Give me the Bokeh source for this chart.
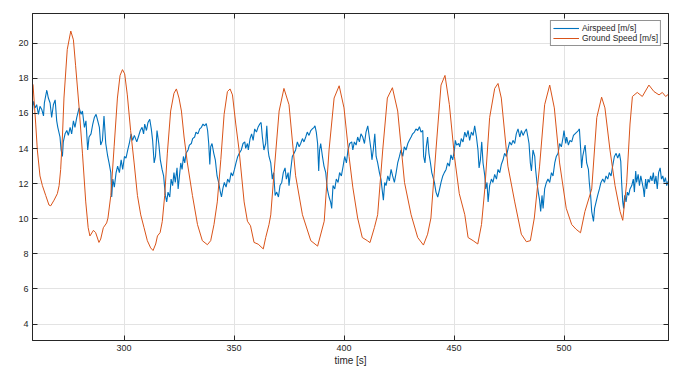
from bokeh.plotting import figure
from bokeh.models import Range1d, LinearAxis, FixedTicker
from bokeh.embed import file_html
from bokeh.resources import INLINE

# ---------------- data ----------------
x_ticks = [300, 350, 400, 450, 500]
y_ticks = [4, 6, 8, 10, 12, 14, 16, 18, 20]

gs_t = [258.4, 258.65, 259.86, 260.6, 261.8, 262.9, 264.4, 265.9, 266.7, 268.2, 269.7,
        270.5, 271.2, 272.0, 272.7, 274.2, 275.8, 277.0, 278.0, 279.6, 281.1, 282.6,
        283.7, 284.5, 286.1, 287.1, 288.6, 289.4, 290.6, 292.1, 292.7, 294.0, 295.5,
        297.0, 298.2, 299.3, 300.3, 301.5, 303.0, 304.6, 306.1, 307.6, 309.1, 310.6,
        312.1, 313.2, 314.4, 315.2, 316.4, 317.4, 318.5, 319.7, 321.2, 322.7, 323.8,
        325.0, 326.1, 327.3, 328.8, 331.1, 333.4, 335.6, 337.9, 339.4, 340.9, 342.4,
        344.0, 345.5, 347.0, 348.2, 349.3, 350.8, 352.3, 354.6, 356.1, 357.5, 359.1,
        361.0, 363.3, 364.4, 365.9, 366.7, 368.2, 370.5, 372.7, 375.0, 378.0, 381.1,
        384.9, 388.0, 391.0, 393.2, 395.5, 397.8, 400.0, 402.3, 404.0, 406.2, 408.3,
        410.6, 411.8, 413.8, 415.3, 417.6, 419.7, 422.0, 424.4, 427.5, 430.5, 433.5,
        436.1, 438.0, 439.5, 441.8, 444.1, 445.9, 447.9, 450.2, 452.4, 454.9, 456.4,
        458.7, 460.8, 462.5, 464.0, 466.2, 468.5, 470.0, 471.5, 474.5, 477.6, 480.6,
        482.9, 484.7, 486.5, 488.9, 491.2, 493.5, 495.6, 498.0, 501.0, 503.5, 505.5,
        507.5, 509.5, 512.6, 514.9, 517.1, 518.6, 520.9, 523.2, 525.5, 526.7, 528.5,
        530.0, 531.1, 533.3, 535.6, 538.6, 540.9, 543.2, 544.7, 546.2, 547.5]
gs_v = [17.7, 17.62, 15.4, 13.92, 12.44, 11.89, 11.33, 10.78, 10.74, 11.06, 11.43,
        11.89, 12.81, 14.66, 16.88, 19.65, 20.7, 20.2, 18.72, 16.32, 13.74, 10.96,
        9.49, 9.02, 9.34, 9.21, 8.65, 8.84, 9.49, 9.76, 10.04, 11.33, 14.1,
        16.88, 18.17, 18.5, 18.26, 17.06, 15.03, 13.18, 11.33, 10.22, 9.49, 8.75,
        8.34, 8.19, 8.56, 9.02, 9.21, 9.85, 11.33, 13.74, 16.14, 17.15, 17.4,
        16.88, 16.14, 14.66, 13.18, 11.33, 9.67, 8.75, 8.52, 8.75, 9.67, 10.96,
        13.37, 15.95, 17.25, 17.4, 17.06, 15.4, 13.92, 10.96, 9.86, 9.6, 8.65,
        8.55, 8.28, 8.93, 9.67, 10.22, 12.63, 16.14, 17.43, 16.5, 12.45, 10.23,
        8.75, 8.44, 9.86, 13.92, 16.88, 17.58, 16.32, 13.55, 11.8, 10.04, 8.93,
        8.75, 8.64, 9.49, 10.23, 13.92, 16.88, 17.47, 16.14, 12.07, 10.23, 8.93,
        8.5, 9.12, 10.04, 13.92, 17.62, 18.17, 16.5, 13.55, 11.43, 10.23, 8.93,
        8.75, 8.56, 9.67, 11.7, 15.77, 17.43, 17.71, 16.88, 13.0, 10.96, 9.12,
        8.69, 8.75, 10.04, 13.0, 16.5, 17.62, 16.32, 13.18, 10.6, 9.67, 9.4,
        9.2, 10.41, 11.7, 15.77, 16.93, 16.32, 13.92, 11.89, 10.41, 9.91, 12.07,
        15.4, 16.97, 17.2, 16.97, 17.62, 17.25, 17.06, 17.2, 16.97, 17.1]

as_t = [258.1, 258.8, 259.6, 260.3, 261.1, 261.8, 262.6, 263.4, 263.8, 264.9, 265.6,
        266.4, 267.1, 267.9, 268.7, 269.4, 269.9, 270.9, 271.4, 272.0, 272.4, 273.2,
        274.0, 274.7, 275.5, 276.2, 277.0, 277.7, 278.5, 279.6, 280.5, 281.1, 282.0,
        282.7, 283.5, 284.1, 285.0, 285.8, 286.5, 287.3, 287.9, 288.8, 289.4, 290.2,
        290.9, 291.7, 292.6, 293.2, 294.0, 294.4, 294.9, 295.6, 296.4, 297.1, 297.9,
        298.7, 299.4, 300.2, 300.9, 301.7, 302.4, 303.2, 303.9, 304.7, 305.8, 306.5,
        307.4, 308.2, 308.9, 309.4, 310.2, 310.9, 311.7, 312.4, 313.0, 313.7, 314.3,
        315.0, 315.8, 316.5, 317.3, 318.0, 318.8, 319.4, 320.0, 320.8, 321.4, 322.1,
        322.7, 323.3, 324.1, 324.6, 325.2, 325.8, 326.4, 327.0, 327.6, 328.2, 329.1,
        329.7, 330.6, 331.2, 332.1, 332.7, 333.6, 334.4, 335.2, 335.9, 336.7, 337.4,
        338.0, 338.5, 339.0, 339.4, 340.0, 340.8, 341.5, 342.3, 343.0, 343.8, 344.3,
        344.9, 345.6, 346.4, 347.1, 347.9, 348.7, 349.4, 350.2, 350.9, 351.7, 352.4,
        353.3, 354.1, 354.9, 355.3, 356.1, 356.5, 357.3, 358.0, 358.7, 359.4, 360.2,
        360.9, 361.7, 362.3, 362.9, 363.6, 364.4, 364.9, 365.5, 365.9, 366.7, 367.4,
        368.0, 368.7, 369.4, 370.2, 370.9, 371.7, 372.4, 373.2, 373.8, 374.6, 375.0,
        375.8, 376.5, 377.3, 378.0, 378.8, 379.6, 380.3, 381.1, 381.8, 382.6, 383.3,
        384.1, 384.9, 385.6, 386.4, 386.8, 387.4, 388.0, 388.5, 388.9, 389.4, 390.2,
        390.9, 391.7, 392.4, 393.2, 393.9, 394.4, 395.0, 395.8, 396.5, 397.3, 398.0,
        398.8, 399.6, 400.3, 401.1, 401.8, 402.6, 403.5, 404.0, 404.7, 405.5, 406.2,
        407.0, 407.7, 408.5, 409.3, 410.0, 410.8, 411.5, 412.3, 412.7, 413.3, 414.0,
        414.6, 415.3, 416.1, 416.8, 417.3, 417.9, 418.5, 419.1, 419.9, 420.6, 421.4,
        422.1, 422.9, 423.7, 424.4, 425.2, 425.9, 426.7, 427.4, 428.2, 429.0, 429.7,
        430.5, 431.2, 432.0, 432.7, 433.5, 434.3, 435.0, 435.8, 436.2, 436.8, 437.4,
        438.0, 438.6, 439.3, 439.9, 440.3, 441.1, 441.8, 442.6, 443.3, 444.1, 444.9,
        445.6, 446.4, 447.1, 447.9, 448.6, 449.4, 450.2, 450.6, 451.2, 452.1, 452.6,
        453.3, 454.1, 454.9, 455.6, 456.4, 457.1, 457.9, 458.7, 459.4, 460.2, 460.9,
        461.4, 462.0, 462.6, 463.2, 464.0, 464.4, 465.0, 465.5, 466.2, 467.0, 467.7,
        468.5, 469.3, 470.0, 470.8, 471.5, 472.3, 473.0, 473.8, 474.6, 475.3, 476.1,
        476.8, 477.6, 478.3, 479.1, 479.9, 480.6, 481.4, 482.1, 482.9, 483.6, 484.1,
        484.7, 485.2, 485.9, 486.7, 487.1, 487.7, 488.3, 488.9, 489.4, 490.0, 490.5,
        491.2, 492.0, 492.7, 493.5, 494.3, 495.0, 495.8, 496.5, 497.3, 498.0, 498.8,
        499.6, 500.0, 500.8, 501.2, 502.0, 502.7, 503.5, 504.3, 505.0, 505.8, 506.5,
        507.0, 507.6, 508.0, 508.5, 509.1, 509.6, 510.3, 511.1, 511.5, 512.1, 512.6,
        513.4, 513.9, 514.6, 515.3, 516.1, 516.8, 517.6, 518.4, 519.1, 519.9, 520.6,
        521.4, 522.1, 522.9, 523.7, 524.4, 525.2, 525.8, 526.2, 526.7, 527.1, 527.6,
        528.2, 528.8, 529.4, 530.0, 530.8, 531.5, 532.0, 532.6, 533.0, 533.7, 534.3,
        534.9, 535.5, 536.1, 536.5, 537.1, 537.6, 538.2, 538.8, 539.4, 540.0, 540.6,
        541.2, 541.8, 542.4, 543.0, 543.7, 544.3, 544.9, 545.5, 546.1, 546.7, 547.4]
as_v = [15.77, 16.69, 16.32, 16.5, 15.95, 16.41, 16.23, 15.86, 16.6, 17.34, 16.88,
        16.6, 15.77, 16.5, 16.78, 15.58, 15.21, 14.66, 13.92, 13.55, 14.38, 14.84,
        15.03, 14.75, 15.21, 14.84, 15.58, 15.21, 15.77, 16.32, 15.95, 16.14, 15.21,
        15.58, 13.92, 14.66, 14.84, 15.4, 15.77, 15.95, 15.67, 15.21, 14.2, 14.47,
        15.86, 14.29, 13.55, 13.18, 12.63, 11.24, 12.26, 11.8, 12.63, 13.0, 12.63,
        13.36, 12.81, 13.55, 13.46, 13.92, 14.29, 14.84, 14.47, 14.75, 14.38, 14.66,
        15.03, 15.21, 14.84, 15.4, 15.03, 15.49, 15.67, 15.12, 14.47, 13.18, 13.55,
        15.03, 14.29, 13.36, 12.81, 12.44, 11.33, 10.96, 11.52, 11.24, 12.26, 11.89,
        12.63, 12.07, 12.9, 11.7, 12.44, 13.18, 12.81, 13.55, 13.18, 13.73, 13.92,
        14.2, 14.29, 14.57, 14.66, 14.94, 14.84, 15.12, 15.21, 15.4, 15.3, 15.43,
        15.03, 14.29, 13.09, 14.1, 14.29, 13.73, 13.36, 12.44, 12.07, 11.52, 11.24,
        11.7, 12.07, 11.8, 12.26, 12.07, 12.63, 12.44, 12.81, 13.18, 13.55, 13.73,
        13.92, 14.29, 14.38, 14.01, 14.29, 13.92, 14.57, 14.84, 14.47, 15.12, 14.94,
        15.21, 15.4, 15.49, 14.66, 13.92, 14.29, 15.3, 13.92, 13.55, 13.18, 12.26,
        12.63, 11.33, 11.52, 11.24, 11.89, 12.07, 12.63, 12.9, 12.26, 12.63, 11.89,
        12.81, 13.55, 13.73, 13.92, 14.38, 14.1, 14.29, 14.57, 14.38, 14.66, 14.94,
        14.75, 15.03, 15.12, 15.21, 15.3, 14.94, 14.29, 12.72, 13.92, 14.29, 13.55,
        13.0, 12.63, 11.7, 11.24, 10.96, 10.59, 11.89, 11.7, 12.26, 12.07, 12.63,
        12.44, 13.0, 13.55, 13.18, 13.92, 14.29, 14.38, 13.92, 14.38, 14.2, 14.66,
        14.38, 14.84, 14.66, 14.29, 14.94, 15.3, 14.66, 13.92, 13.36, 13.92, 14.84,
        13.55, 13.18, 12.63, 12.26, 11.7, 11.06, 12.07, 11.89, 12.44, 12.16, 12.81,
        12.44, 12.07, 12.63, 13.18, 13.55, 13.92, 13.55, 14.1, 13.92, 14.29, 14.47,
        14.66, 14.84, 14.94, 15.12, 15.03, 15.25, 14.94, 15.03, 13.55, 13.18, 14.1,
        14.66, 13.73, 13.18, 12.63, 12.44, 12.07, 11.52, 11.24, 11.61, 12.07, 12.44,
        12.63, 12.81, 13.18, 13.0, 13.64, 13.36, 13.92, 14.47, 14.2, 14.29, 14.1,
        14.57, 14.38, 14.94, 14.66, 15.03, 14.47, 14.94, 14.75, 15.3, 14.66, 13.92,
        12.9, 13.36, 14.38, 13.18, 12.44, 11.7, 12.07, 10.96, 11.89, 12.26, 12.07,
        12.53, 12.26, 12.81, 12.63, 13.09, 13.36, 13.73, 13.55, 14.01, 14.38, 14.2,
        14.47, 14.29, 14.84, 15.12, 14.66, 15.03, 14.75, 14.94, 15.12, 14.66, 14.29,
        13.18, 12.72, 13.92, 13.55, 12.81, 12.07, 11.52, 11.06, 10.41, 11.33, 10.59,
        11.7, 12.07, 12.26, 12.07, 12.63, 12.44, 13.18, 13.55, 13.73, 14.29, 14.1,
        14.66, 15.03, 14.29, 14.66, 14.2, 14.47, 14.38, 14.75, 14.84, 14.94, 15.03,
        15.12, 13.92, 12.9, 13.55, 13.92, 14.2, 13.18, 12.81, 12.07, 11.33, 10.41,
        9.85, 10.59, 10.96, 11.33, 11.7, 12.07, 12.26, 12.07, 12.44, 12.26, 12.63,
        12.44, 13.0, 13.55, 13.73, 13.46, 13.73, 13.27, 12.07, 10.96, 10.59, 11.33,
        10.96, 11.52, 11.33, 11.7, 11.89, 12.26, 11.52, 12.72, 12.07, 12.53, 11.89,
        12.44, 12.07, 11.7, 11.24, 12.26, 11.7, 12.26, 12.07, 12.44, 12.16, 12.63,
        11.98, 12.44, 11.7, 12.63, 12.9, 12.26, 12.44, 12.07, 12.35, 11.89, 12.16]

series_labels = ["Airspeed [m/s]", "Ground Speed [m/s]"]
x_label = "time [s]"

# ---------------- styling ----------------
FONT = "Liberation Sans"
AX = "#262626"
GRID = "#e3e3e3"
BLUE = "#0072BD"
ORANGE = "#D95319"

p = figure(width=674, height=368, output_backend="svg", toolbar_location=None,
           x_range=Range1d(258.4, 547.5), y_range=Range1d(3.06, 21.7),
           min_border_left=32, min_border_right=6, min_border_top=13,
           min_border_bottom=26, background_fill_color="white",
           border_fill_color="white")

p.line(as_t, as_v, line_color=BLUE, line_width=1.1, legend_label=series_labels[0])
p.line(gs_t, gs_v, line_color=ORANGE, line_width=1.0, legend_label=series_labels[1])

def style_axis(ax, labels=True):
    ax.axis_line_color = AX
    ax.axis_line_width = 1
    ax.major_tick_line_color = AX
    ax.major_tick_in = 5
    ax.major_tick_out = 0
    ax.minor_tick_line_color = None
    ax.major_label_text_font = FONT
    ax.major_label_text_font_size = "9px"
    ax.major_label_text_color = AX
    if not labels:
        ax.major_label_text_font_size = "1px"
        ax.major_label_text_color = None
        ax.major_label_standoff = 0

style_axis(p.xaxis[0])
style_axis(p.yaxis[0])
p.xaxis[0].ticker = FixedTicker(ticks=x_ticks)
p.yaxis[0].ticker = FixedTicker(ticks=y_ticks)
p.xaxis[0].major_label_standoff = 4
p.yaxis[0].major_label_standoff = 4
p.xaxis[0].axis_label = x_label
p.xaxis[0].axis_label_text_font = FONT
p.xaxis[0].axis_label_text_font_size = "10px"
p.xaxis[0].axis_label_text_font_style = "normal"
p.xaxis[0].axis_label_text_color = AX
p.xaxis[0].axis_label_standoff = 1

top = LinearAxis(ticker=FixedTicker(ticks=x_ticks))
style_axis(top, labels=False)
p.add_layout(top, "above")
right = LinearAxis(ticker=FixedTicker(ticks=y_ticks))
style_axis(right, labels=False)
p.add_layout(right, "right")

p.xgrid.grid_line_color = GRID
p.ygrid.grid_line_color = GRID
p.xgrid.ticker = FixedTicker(ticks=x_ticks)
p.ygrid.ticker = FixedTicker(ticks=y_ticks)
p.outline_line_color = AX

lg = p.legend[0]
lg.location = "top_right"
lg.margin = 7
lg.border_line_color = AX
lg.border_line_width = 1
lg.background_fill_color = "white"
lg.background_fill_alpha = 1
lg.padding = 2
lg.spacing = 0
lg.glyph_width = 26
lg.glyph_height = 10
lg.label_height = 10
lg.label_standoff = 3
lg.label_text_font = FONT
lg.label_text_font_size = "8.5px"
lg.label_text_color = AX

open("out.html", "w").write(file_html(p, INLINE))
